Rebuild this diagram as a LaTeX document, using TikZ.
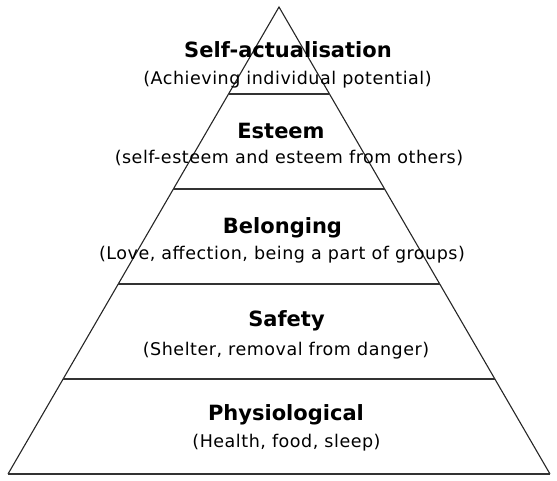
\documentclass[tikz,border=0pt]{standalone}
\usepackage{fontspec}
\setmainfont{DejaVu Sans}
\newfontfamily\headfont[LetterSpace=0]{DejaVu Sans}
\newfontfamily\subfont[LetterSpace=3]{DejaVu Sans}
\usetikzlibrary{calc}
\begin{document}
\begin{tikzpicture}[x=1pt,y=-1pt,
  edge/.style={line width=1.1pt,draw=black!85},
  band/.style={line width=1.4pt,draw=black!80},
  head/.style={anchor=base,inner sep=0pt,font=\headfont\bfseries\fontsize{21}{22}\selectfont},
  sub/.style={anchor=base,inner sep=0pt,font=\subfont\fontsize{17.5}{19}\selectfont}]
\useasboundingbox (0,0) rectangle (557,480);
\coordinate (A) at (279,7);
\coordinate (BL) at (8,474);
\coordinate (BR) at (550,474);
\draw[edge] (BL) -- (A) -- (BR);
\draw[band] (BL) -- (BR);
\foreach \t/\n in {0.1863/1,0.3897/2,0.5931/3,0.7966/4}{
  \coordinate (L\n) at ($(A)!\t!(BL)$);
  \coordinate (R\n) at ($(A)!\t!(BR)$);
  \draw[band] (L\n) -- (R\n);
}
\node[head] (h1) at (288,57) {Self-actualisation};
\node[sub]  (s1) at (287.5,84) {(Achieving individual potential)};
\node[head] (h2) at (281,138) {Esteem};
\node[sub]  (s2) at (289,163) {(self-esteem and esteem from others)};
\node[head] (h3) at (282.5,233) {Belonging};
\node[sub]  (s3) at (282,259) {(Love, affection, being a part of groups)};
\node[head] (h4) at (286.5,326) {Safety};
\node[sub]  (s4) at (286,355) {(Shelter, removal from danger)};
\node[head] (h5) at (286,420) {Physiological};
\node[sub]  (s5) at (286.5,447) {(Health, food, sleep)};
\end{tikzpicture}
\end{document}
